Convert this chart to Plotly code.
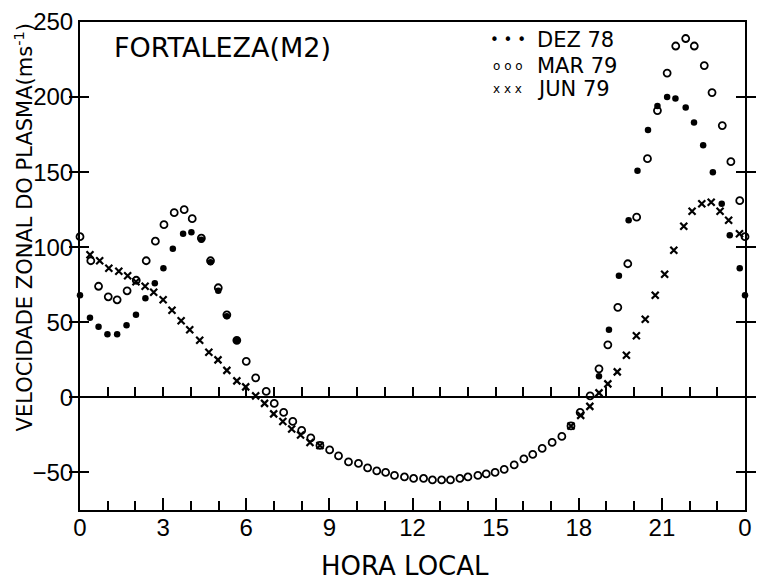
import plotly.graph_objects as go

# ---- data ----
dez_t = [0.0, 0.36, 0.67, 0.99, 1.34, 1.68, 2.02, 2.36, 2.70, 3.01, 3.35, 3.72, 4.02, 4.38, 4.71, 4.99, 5.30, 5.66,
         18.73, 19.09, 19.45, 19.80, 20.12, 20.50, 20.84, 21.19, 21.49, 21.86, 22.16, 22.49, 22.84, 23.16, 23.45, 23.81, 24.0]
dez_v = [68, 53, 47, 42, 42, 48, 55, 66, 76, 86, 99, 109, 110, 105, 90, 71, 54, 38,
         14, 45, 81, 118, 151, 178, 194, 200, 199, 193, 183, 168, 150, 129, 108, 86, 68]

mar_t = [0.0, 0.39, 0.67, 1.02, 1.34, 1.70, 2.03, 2.39, 2.72, 3.03, 3.40, 3.76, 4.05, 4.38, 4.71, 4.99, 5.30, 5.66,
         6.00, 6.34, 6.72, 7.01, 7.35, 7.68, 8.00, 8.33, 8.66, 9.01, 9.33, 9.69, 10.05, 10.38, 10.71, 11.03, 11.35,
         11.71, 12.04, 12.40, 12.72, 13.05, 13.37, 13.71, 14.00, 14.36, 14.66, 14.98, 15.31, 15.67, 16.02, 16.34,
         16.68, 17.04, 17.39, 17.72, 18.05, 18.41, 18.73, 19.05, 19.41, 19.77, 20.09, 20.48, 20.84, 21.19, 21.50,
         21.86, 22.17, 22.53, 22.81, 23.18, 23.49, 23.81, 24.0]
mar_v = [107, 91, 74, 67, 65, 71, 78, 91, 104, 115, 123, 125, 119, 106, 91, 73, 55, 38,
         24, 13, 4, -4, -10, -16, -22, -27, -32, -35, -39, -43, -44, -47, -49, -50, -52,
         -53, -54, -54, -55, -55, -55, -54, -53, -52, -51, -50, -48, -45, -41, -38,
         -34, -30, -26, -19, -10, 1, 19, 35, 60, 89, 120, 159, 191, 216, 234,
         239, 234, 221, 203, 181, 157, 131, 107]

jun_t = [0.36, 0.71, 1.04, 1.40, 1.72, 2.02, 2.35, 2.66, 3.00, 3.32, 3.65, 3.96, 4.32, 4.65, 4.98, 5.30, 5.66,
         5.98, 6.34, 6.66, 6.99, 7.32, 7.64, 7.96, 8.30, 8.66,
         17.72, 18.07, 18.40, 18.73, 19.05, 19.39, 19.72, 20.08, 20.40, 20.76, 21.10, 21.43, 21.79, 22.09, 22.44,
         22.78, 23.10, 23.41, 23.80]
jun_v = [95, 91, 86, 84, 81, 77, 74, 70, 65, 58, 51, 45, 38, 30, 25, 18, 11,
         7, 1, -4, -11, -16, -21, -25, -30, -32,
         -19, -12, -6, 3, 9, 17, 28, 41, 52, 68, 82, 98, 114, 124, 129,
         130, 124, 118, 109]

x_tickvals = [0, 3, 6, 9, 12, 15, 18, 21, 24]
x_ticktext = ["0", "3", "6", "9", "12", "15", "18", "21", "0"]
y_tickvals = [-50, 0, 50, 100, 150, 200, 250]
legend_labels = ["DEZ 78", "MAR 79", "JUN 79"]
legend_symbols = ["• • •", "o o o", "x x x"]

TICKFONT = dict(family="Liberation Sans", size=24, color="black")
TXTFONT = "DejaVu Sans"

fig = go.Figure()
fig.add_trace(go.Scatter(x=dez_t, y=dez_v, mode="markers", cliponaxis=False,
                         marker=dict(symbol="circle", size=6.5, color="black")))
fig.add_trace(go.Scatter(x=jun_t, y=jun_v, mode="markers", cliponaxis=False,
                         marker=dict(symbol="x-thin", size=7, color="black", line=dict(width=2.2, color="black"))))
# open circles drawn on the overlaid x axis that carries the zero line
fig.add_trace(go.Scatter(x=mar_t, y=mar_v, mode="markers", cliponaxis=False, xaxis="x2",
                         marker=dict(symbol="circle-open", size=7, color="black", line=dict(width=1.8, color="black"))))

fig.update_layout(
    width=758, height=581, autosize=False,
    margin=dict(l=80, r=6, t=22, b=71),
    paper_bgcolor="white", plot_bgcolor="white",
    showlegend=False,
    xaxis=dict(range=[0, 24], tickmode="array", tickvals=x_tickvals, ticktext=x_ticktext,
               ticks="inside", ticklen=12, tickwidth=2, tickcolor="black",
               minor=dict(dtick=1, tick0=0, ticks="inside", ticklen=9, tickwidth=2, tickcolor="black", showgrid=False),
               showline=True, linewidth=2, linecolor="black", mirror=True,
               showgrid=False, zeroline=False, tickfont=TICKFONT, ticklabelstandoff=-5),
    xaxis2=dict(range=[0, 24], overlaying="x", anchor="free", position=75 / 325, side="bottom",
                tickmode="linear", tick0=0, dtick=1, ticks="inside", ticklen=9, tickwidth=2, tickcolor="black",
                showline=True, linewidth=2, linecolor="black", showticklabels=False,
                showgrid=False, zeroline=False),
    yaxis=dict(range=[-75, 250], tickmode="linear", tick0=-50, dtick=50, anchor="x", side="left",
               ticks="inside", ticklen=9, tickwidth=2, tickcolor="black",
               showline=True, linewidth=2, linecolor="black", mirror="allticks",
               showgrid=False, zeroline=False, tickfont=TICKFONT),
)

annotations = [
    dict(text="FORTALEZA(M2)", xref="paper", yref="paper", x=0.0476, y=0.947, xanchor="left", yanchor="middle",
         showarrow=False, font=dict(family=TXTFONT, size=27, color="black")),
    dict(text="VELOCIDADE ZONAL DO PLASMA(ms<sup>-1</sup>)", xref="paper", yref="paper", x=-0.085, y=0.58,
         xanchor="center", yanchor="middle", textangle=-90, showarrow=False,
         font=dict(family=TXTFONT, size=21, color="black")),
    dict(text="HORA LOCAL", xref="paper", yref="paper", x=0.489, y=-0.114, xanchor="center", yanchor="middle",
         showarrow=False, font=dict(family=TXTFONT, size=26, color="black")),
]
legend_y = [0.963, 0.910, 0.863]
for sym, lab, yy in zip(legend_symbols, legend_labels, legend_y):
    annotations.append(dict(text=sym, xref="paper", yref="paper", x=0.643, y=yy, xanchor="center", yanchor="middle",
                            showarrow=False, font=dict(family=TXTFONT, size=15 if sym.startswith("•") else 12, color="black")))
    annotations.append(dict(text=lab, xref="paper", yref="paper", x=0.6845, y=yy, xanchor="left", yanchor="middle",
                            showarrow=False, font=dict(family=TXTFONT, size=21, color="black")))
fig.update_layout(annotations=annotations)

fig.write_html("out.html")
